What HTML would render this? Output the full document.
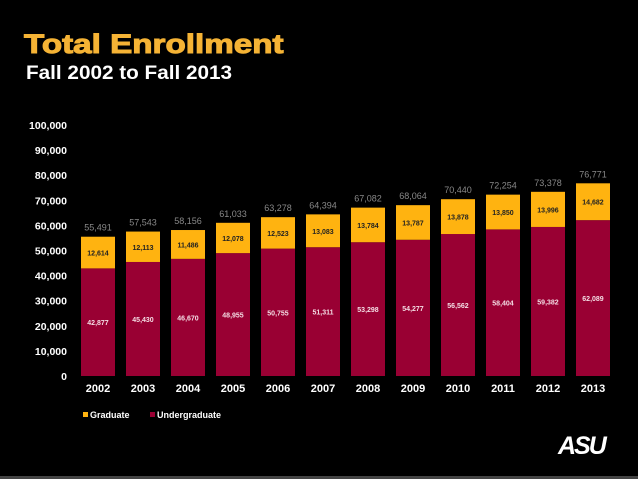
<!DOCTYPE html>
<html><head><meta charset="utf-8"><style>
body{margin:0;background:#000;width:638px;height:479px;overflow:hidden;font-family:"Liberation Sans",sans-serif;position:relative}
.t{position:absolute;left:24px;top:29px;color:#F5B335;font-weight:bold;font-size:27px;transform:scaleX(1.23);transform-origin:0 0;-webkit-text-stroke:1px #F5B335}
.s{position:absolute;left:26px;top:63px;color:#fff;font-weight:bold;font-size:19px;transform:scaleX(1.09);transform-origin:0 0}
.bl{position:absolute;left:0;top:476px;width:638px;height:3px;background:#444}
</style></head><body>
<div class="t">Total Enrollment</div>
<div class="s">Fall 2002 to Fall 2013</div>
<svg id="c" width="638" height="479" style="position:absolute;left:0;top:0"></svg>
<div style="position:absolute;left:558px;top:432px;color:#fff;font-weight:900;font-size:25px;font-style:italic;letter-spacing:-2px">ASU</div>
<div class="bl"></div>
<script>
const years=["2002","2003","2004","2005","2006","2007","2008","2009","2010","2011","2012","2013"];
const undergrad=[42877,45430,46670,48955,50755,51311,53298,54277,56562,58404,59382,62089];
const graduate=[12614,12113,11486,12078,12523,13083,13784,13787,13878,13850,13996,14682];
const totals=[55491,57543,58156,61033,63278,64394,67082,68064,70440,72254,73378,76771];
const yTicks=[0,10000,20000,30000,40000,50000,60000,70000,80000,90000,100000];
const svg=document.getElementById('c');const NS='http://www.w3.org/2000/svg';
const y=v=>376-v*251/100000;const x=i=>98+i*45;const bw=34;
const fmt=v=>v.toLocaleString('en-US');
function mk(t,a,txt){const e=document.createElementNS(NS,t);for(const k in a)e.setAttribute(k,a[k]);if(txt!==undefined)e.textContent=txt;svg.appendChild(e);return e;}
yTicks.forEach(v=>{const e=mk('text',{x:67,y:y(v)+4,fill:'#fff','font-size':10.5,'font-weight':'bold','text-anchor':'end'},fmt(v));

});
years.forEach((yr,i)=>{
const u=undergrad[i],g=graduate[i];
const r1=mk('rect',{x:x(i)-bw/2,y:y(u),width:bw,height:y(0)-y(u),fill:'#990033'});


const r2=mk('rect',{x:x(i)-bw/2,y:y(u+g),width:bw,height:y(u)-y(u+g),fill:'#FFB310'});


const l1=mk('text',{x:x(i),y:(y(u)+y(0))/2+3,fill:'#f4dce4','font-size':7,'font-weight':'bold','text-anchor':'middle'},fmt(u));


const l2=mk('text',{x:x(i),y:(y(u)+y(u+g))/2+3,fill:'#222','font-size':7,'font-weight':'bold','text-anchor':'middle'},fmt(g));


const l3=mk('text',{x:x(i),y:y(totals[i])-6,fill:'#888','font-size':9,'text-anchor':'middle'},fmt(totals[i]));


const l4=mk('text',{x:x(i),y:392,fill:'#fff','font-size':11,'font-weight':'bold','text-anchor':'middle'},yr);


});
const lg=[['Graduate','#FFB310',83],['Undergraduate','#990033',150]];
lg.forEach(([n,c,lx])=>{const r=mk('rect',{x:lx,y:412,width:5,height:5,fill:c});


const t=mk('text',{x:lx+7,y:418,fill:'#fff','font-size':9,'font-weight':'bold'},n);

});
</script>
</body></html>
